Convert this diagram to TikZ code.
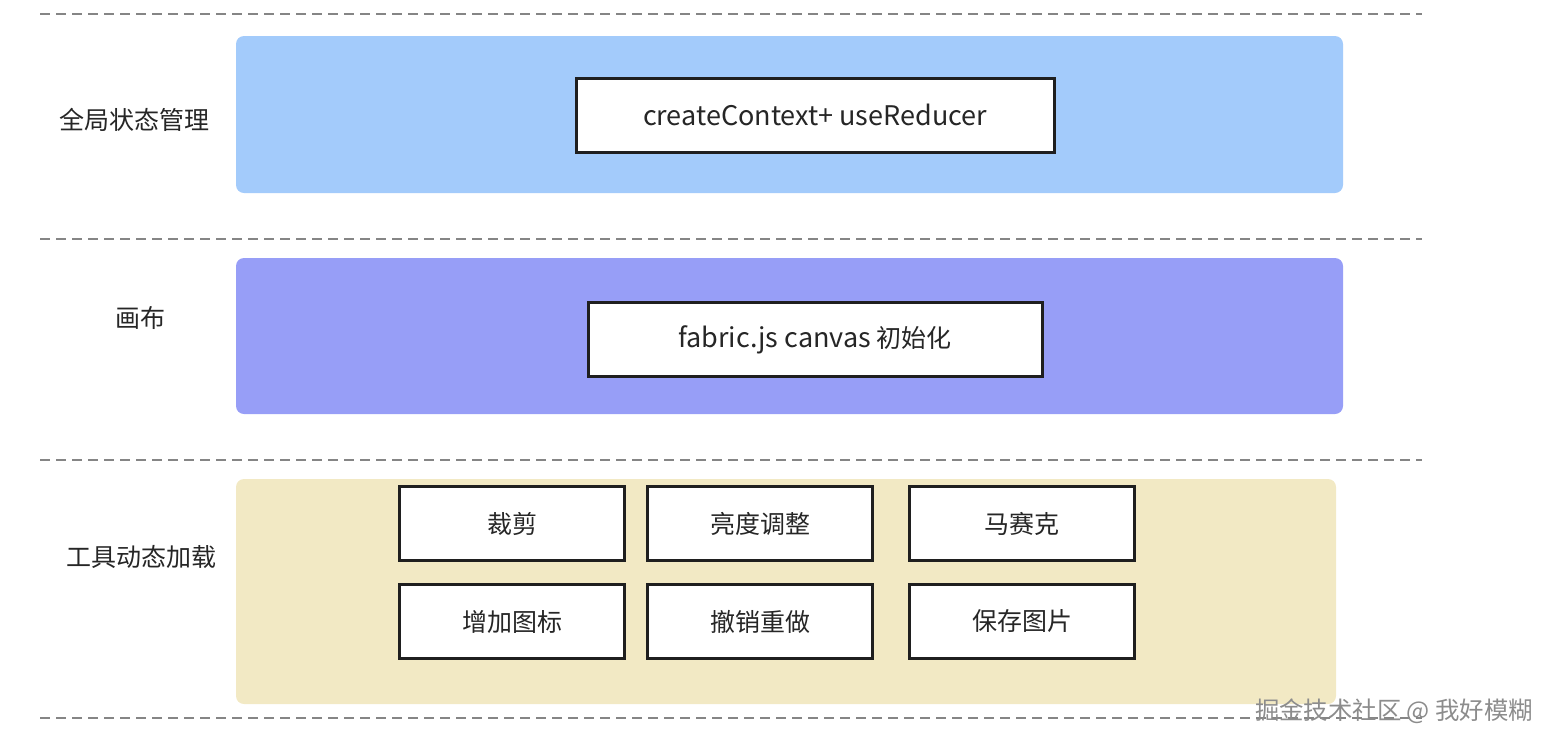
\documentclass[tikz,border=0pt]{standalone}
\usepackage{fontspec}
\setmainfont{Noto Sans CJK SC}
\begin{document}
\begin{tikzpicture}[x=0.5pt,y=-0.5pt,
  sep/.style={draw=black!48,line width=1pt,dash pattern=on 5pt off 3pt},
  panel/.style={rounded corners=4pt,draw=none},
  inbox/.style={draw=black!88,line width=1.5pt,fill=white,font=\fontsize{12.5}{14}\selectfont,text=black!85},
  lab/.style={font=\fontsize{12.5}{14}\selectfont,text=black!85}]
\definecolor{pblue}{HTML}{A3CBFB}
\definecolor{ppurple}{HTML}{979EF7}
\definecolor{pyellow}{HTML}{F2E9C4}
\useasboundingbox (0,0) rectangle (1558,746);
% separators
\coordinate (s1a) at (40,14);  \coordinate (s1b) at (1422,14);
\coordinate (s2a) at (40,239); \coordinate (s2b) at (1422,239);
\coordinate (s3a) at (40,460); \coordinate (s3b) at (1422,460);
\coordinate (s4a) at (40,718); \coordinate (s4b) at (1422,718);
\draw[sep] (s1a) -- (s1b);
\draw[sep] (s2a) -- (s2b);
\draw[sep] (s3a) -- (s3b);
\draw[sep] (s4a) -- (s4b);
% panels
\fill[panel,pblue] (236,36) rectangle (1343,193);
\fill[panel,ppurple] (236,258) rectangle (1343,414);
\fill[panel,pyellow] (236,479) rectangle (1336,704);
% labels
\node[lab] (l1) at (134,120) {全局状态管理};
\node[lab] (l2) at (140,318) {画布};
\node[lab] (l3) at (141,557) {工具动态加载};
% inner boxes
\node[inbox,minimum width=239pt,minimum height=37pt,font=\fontsize{13.5}{15}\selectfont] (ctx) at (815,115) {createContext+ useReducer};
\node[inbox,minimum width=227pt,minimum height=37pt] (fab) at (815,339.5) {{\fontsize{13.5}{15}\selectfont fabric.js canvas} 初始化};
\node[inbox,minimum width=112.5pt,minimum height=37pt] (t1) at (512,523.5) {裁剪};
\node[inbox,minimum width=112.5pt,minimum height=37pt] (t2) at (760,523.5) {亮度调整};
\node[inbox,minimum width=112.5pt,minimum height=37pt] (t3) at (1022,523.5) {马赛克};
\node[inbox,minimum width=112.5pt,minimum height=37pt] (t4) at (512,621.5) {增加图标};
\node[inbox,minimum width=112.5pt,minimum height=37pt] (t5) at (760,621.5) {撤销重做};
\node[inbox,minimum width=112.5pt,minimum height=37pt] (t6) at (1022,621.5) {保存图片};
% watermark
\node[font=\fontsize{12.2}{14}\selectfont,text=black!45] (wm) at (1394,711) {掘金技术社区 @ 我好模糊};
\end{tikzpicture}
\end{document}
